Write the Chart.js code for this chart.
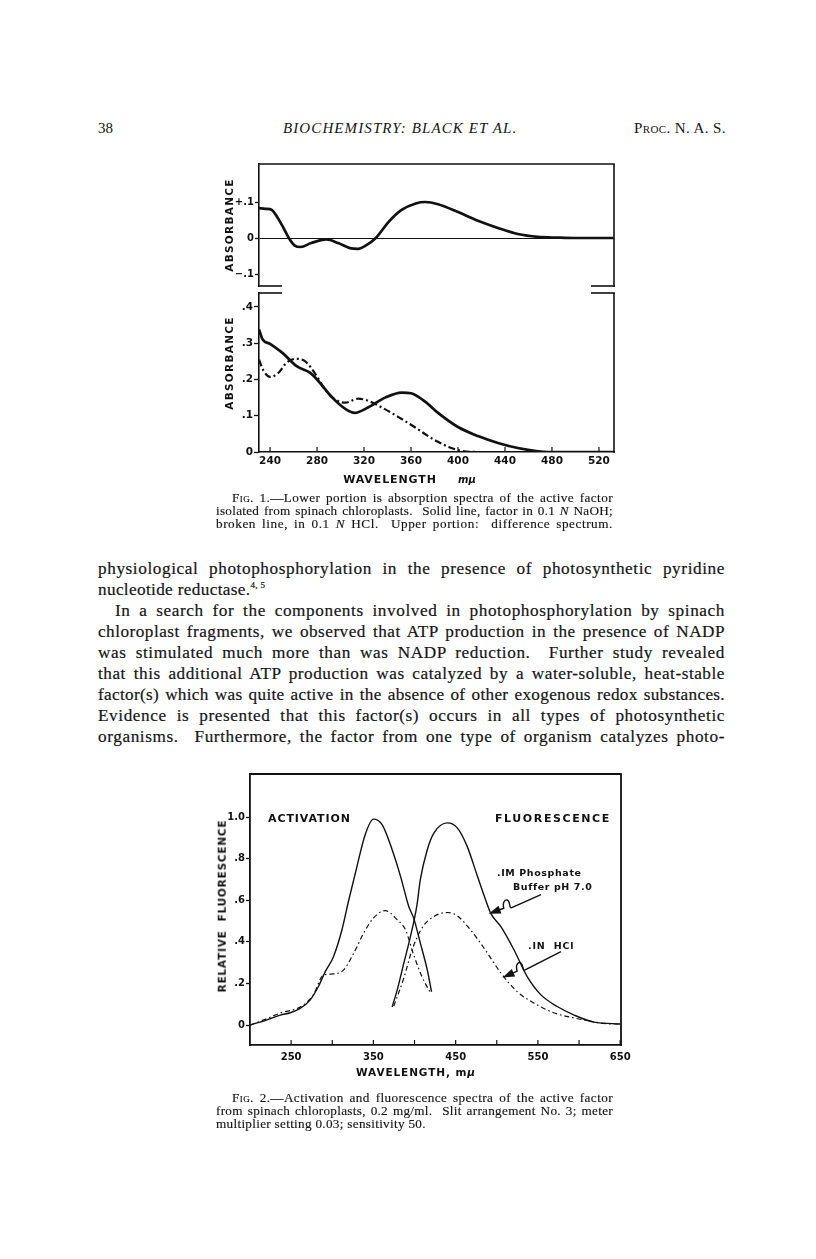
<!DOCTYPE html>
<html><head><meta charset="utf-8">
<script src="https://cdn.jsdelivr.net/npm/chart.js@4"></script>
<style>
html,body{margin:0;padding:0;background:#fff;}
body{width:816px;height:1259px;position:relative;overflow:hidden;font-family:"Liberation Serif",serif;color:#151515;}
.t{position:absolute;white-space:nowrap;}
.p{position:absolute;font-size:17.2px;line-height:21px;height:21px;white-space:nowrap;-webkit-text-stroke:0.2px #151515;}
.c{position:absolute;font-size:13.2px;line-height:13px;height:13px;white-space:nowrap;-webkit-text-stroke:0.15px #151515;}
.sc{font-variant:small-caps;}
.s{position:absolute;white-space:nowrap;font-family:"DejaVu Sans",sans-serif;font-weight:bold;color:#111;line-height:1;}
.rot{transform:translate(-50%,-50%) rotate(-90deg);}
.ctr{transform:translate(-50%,-50%);}
canvas{position:absolute;}
</style></head><body>

<div class="t" style="left:98px;top:118px;font-size:15px;line-height:20px;">38</div>
<div class="t" style="left:283px;top:118px;font-size:15px;line-height:20px;font-style:italic;letter-spacing:1.1px;">BIOCHEMISTRY: BLACK ET AL.</div>
<div class="t sc" style="left:634px;top:118px;font-size:15px;line-height:20px;letter-spacing:0.4px;">Proc. N. A. S.</div>

<canvas id="c1" width="430" height="150" style="left:200px;top:150px;"></canvas>
<canvas id="c2" width="430" height="195" style="left:200px;top:285px;"></canvas>
<canvas id="c3" width="440" height="310" style="left:200px;top:760px;"></canvas>

<div class="s rot" style="left:229px;top:225px;font-size:10.5px;letter-spacing:1.3px;">ABSORBANCE</div>
<div class="s rot" style="left:229px;top:363px;font-size:10.5px;letter-spacing:1.3px;">ABSORBANCE</div>
<div class="s ctr" style="left:390px;top:479px;font-size:11px;letter-spacing:0.9px;">WAVELENGTH</div>
<div class="s ctr" style="left:467px;top:480px;font-size:10px;font-style:italic;">mμ</div>

<div class="c fit" data-w="381" style="left:232px;top:491px;"><span class="sc">Fig.</span> 1.—Lower portion is absorption spectra of the active factor</div>
<div class="c fit" data-w="397" style="left:216px;top:504px;">isolated from spinach chloroplasts.&nbsp; Solid line, factor in 0.1 <i>N</i> NaOH;</div>
<div class="c fit" data-w="397" style="left:216px;top:517px;">broken line, in 0.1 <i>N</i> HCl.&nbsp; Upper portion:&nbsp; difference spectrum.</div>

<div class="p fit" data-w="627" style="left:98px;top:558px;">physiological photophosphorylation in the presence of photosynthetic pyridine</div>
<div class="p" style="left:98px;top:579px;letter-spacing:0.35px;">nucleotide reductase.<sup style="font-size:9px;line-height:0;">4, 5</sup></div>
<div class="p fit" data-w="610" style="left:115px;top:600px;">In a search for the components involved in photophosphorylation by spinach</div>
<div class="p fit" data-w="627" style="left:98px;top:621px;">chloroplast fragments, we observed that ATP production in the presence of NADP</div>
<div class="p fit" data-w="627" style="left:98px;top:642px;">was stimulated much more than was NADP reduction.&nbsp; Further study revealed</div>
<div class="p fit" data-w="627" style="left:98px;top:663px;">that this additional ATP production was catalyzed by a water-soluble, heat-stable</div>
<div class="p fit" data-w="627" style="left:98px;top:684px;">factor(s) which was quite active in the absence of other exogenous redox substances.</div>
<div class="p fit" data-w="627" style="left:98px;top:705px;">Evidence is presented that this factor(s) occurs in all types of photosynthetic</div>
<div class="p fit" data-w="627" style="left:98px;top:726px;">organisms.&nbsp; Furthermore, the factor from one type of organism catalyzes photo-</div>

<div class="s" style="left:268px;top:813px;font-size:11px;letter-spacing:0.9px;">ACTIVATION</div>
<div class="s" style="left:495px;top:813px;font-size:11px;letter-spacing:1.6px;">FLUORESCENCE</div>
<div class="s" style="left:497px;top:868px;font-size:9.5px;letter-spacing:0.6px;">.IM Phosphate</div>
<div class="s" style="left:513px;top:882px;font-size:9.5px;letter-spacing:0.6px;">Buffer pH 7.0</div>
<div class="s" style="left:528px;top:941px;font-size:9.5px;letter-spacing:0.8px;">.IN&nbsp; HCl</div>
<div class="s rot" style="left:222px;top:906px;font-size:10.5px;letter-spacing:0.8px;">RELATIVE&nbsp; FLUORESCENCE</div>
<div class="s ctr" style="left:416px;top:1072px;font-size:10.5px;letter-spacing:0.9px;">WAVELENGTH, m<i>μ</i></div>

<div class="c fit" data-w="381" style="left:232px;top:1091px;"><span class="sc">Fig.</span> 2.—Activation and fluorescence spectra of the active factor</div>
<div class="c fit" data-w="397" style="left:216px;top:1104px;">from spinach chloroplasts, 0.2 mg/ml.&nbsp; Slit arrangement No. 3; meter</div>
<div class="c" style="left:216px;top:1117px;letter-spacing:0.3px;">multiplier setting 0.03; sensitivity 50.</div>

<script>
// ---------- Fig. 1 data (wavelength in mμ, absorbance) ----------
const FIG1_X_TICKS = [240, 280, 320, 360, 400, 440, 480, 520];
const FIG1_X_LABELS = ['240', '280', '320', '360', '400', '440', '480', '520'];
const FIG1_DIFF_Y_TICKS = [-0.1, 0, 0.1];
const FIG1_DIFF_Y_LABELS = ['\u2212.1', '0', '+.1'];
const FIG1_ABS_Y_TICKS = [0, 0.1, 0.2, 0.3, 0.4];
const FIG1_ABS_Y_LABELS = ['0', '.1', '.2', '.3', '.4'];

const FIG1_DIFF_NM = [230.6, 236, 241.6, 245, 251, 256, 261, 266, 275, 288, 298, 308, 315, 322, 330, 341, 352, 364, 372, 383, 400, 417, 434, 451, 468, 485, 500, 532];
const FIG1_DIFF    = [0.083, 0.081, 0.078, 0.064, 0.031, 0.0, -0.021, -0.025, -0.014, -0.004, -0.014, -0.028, -0.030, -0.020, 0.0, 0.045, 0.078, 0.096, 0.100, 0.094, 0.072, 0.048, 0.028, 0.011, 0.003, 0.001, 0.0, 0.0];

const FIG1_NAOH_NM = [230.6, 233.6, 240, 251, 263, 274, 280, 293, 305, 312, 323, 338, 352, 360, 372, 383, 400, 417, 434, 451, 468, 477, 500, 532];
const FIG1_NAOH    = [0.338, 0.311, 0.298, 0.272, 0.236, 0.219, 0.200, 0.150, 0.117, 0.108, 0.122, 0.150, 0.164, 0.162, 0.139, 0.108, 0.069, 0.044, 0.025, 0.011, 0.002, 0.0, 0.0, 0.0];

const FIG1_HCL_NM = [230.6, 234, 240, 247, 254, 262, 270, 279, 287, 296, 304, 315, 323, 334, 349, 363, 377, 392, 403, 420, 480];
const FIG1_HCL    = [0.255, 0.227, 0.207, 0.218, 0.246, 0.257, 0.250, 0.213, 0.171, 0.144, 0.136, 0.147, 0.142, 0.125, 0.097, 0.069, 0.039, 0.014, 0.003, 0.0, 0.0];

// ---------- Fig. 2 data (wavelength in mμ, relative fluorescence) ----------
const FIG2_X_TICKS = [250, 300, 350, 400, 450, 500, 550, 600, 650];
const FIG2_X_LABELS = ['250', '', '350', '', '450', '', '550', '', '650'];
const FIG2_Y_TICKS = [0, 0.2, 0.4, 0.6, 0.8, 1.0];
const FIG2_Y_LABELS = ['0', '.2', '.4', '.6', '.8', '1.0'];

const ACT_BUFFER_NM = [200, 220, 237, 249, 261, 273, 283, 291.5, 301.6, 311.8, 320, 330, 340, 350, 360.6, 372.8, 383, 393, 399, 407, 415.5, 420.7];
const ACT_BUFFER    = [0.0, 0.024, 0.048, 0.059, 0.080, 0.120, 0.184, 0.257, 0.330, 0.458, 0.600, 0.762, 0.915, 0.990, 0.963, 0.843, 0.715, 0.570, 0.514, 0.395, 0.265, 0.160];

const FLU_BUFFER_NM = [372.8, 379, 387, 395, 403, 407, 415.5, 423.5, 440, 452, 464, 476.5, 486.6, 492.7, 505, 521, 537, 553.7, 574, 594, 618, 651];
const FLU_BUFFER    = [0.087, 0.169, 0.298, 0.425, 0.578, 0.698, 0.843, 0.923, 0.972, 0.948, 0.859, 0.715, 0.600, 0.537, 0.473, 0.361, 0.233, 0.145, 0.088, 0.048, 0.014, 0.005];

const ACT_HCL_NM = [200, 220, 237, 261, 277, 289, 301.6, 313.8, 326, 338, 350, 364.6, 379, 389, 399, 409, 419.5];
const ACT_HCL    = [0.0, 0.030, 0.058, 0.087, 0.145, 0.240, 0.246, 0.265, 0.345, 0.441, 0.514, 0.550, 0.506, 0.458, 0.337, 0.233, 0.153];

const FLU_HCL_NM = [374.8, 387, 397, 409, 423.5, 440, 452, 468, 484.5, 505, 525, 545, 570, 594, 610.6, 630, 651];
const FLU_HCL    = [0.091, 0.226, 0.361, 0.466, 0.522, 0.541, 0.525, 0.458, 0.370, 0.250, 0.160, 0.106, 0.058, 0.034, 0.021, 0.008, 0.004];

// arrows (annotation) in data units: tip and tail
const FIG2_ARROWS = [
  {tip: [490.2, 0.535], tail: [553.7, 0.627]},
  {tip: [507, 0.228], tail: [578, 0.353]}
];

// ---------- text line fitting (justify each printed line to its measure) ----------
document.querySelectorAll('.fit').forEach(el => {
  const target = parseFloat(el.dataset.w);
  let w = el.getBoundingClientRect().width;
  const txt = el.textContent;
  const n = txt.length;
  let ls;
  if (w > target) {
    ls = (target - w) / n - 0.02;
  } else {
    ls = Math.min(0.6, (target - w) * 0.6 / n);
  }
  el.style.letterSpacing = ls.toFixed(3) + 'px';
  w = el.getBoundingClientRect().width;
  const spaces = (txt.match(/[ \u00a0]/g) || []).length;
  if (spaces > 0) el.style.wordSpacing = ((target - w) / spaces).toFixed(3) + 'px';
});

const pts = (xs, ys) => xs.map((x, i) => ({x: x, y: ys[i]}));
const INK = '#111';

Chart.defaults.font.family = '"DejaVu Sans", sans-serif';
Chart.defaults.font.weight = 'bold';
Chart.defaults.color = INK;

const frame = {
  id: 'frame',
  afterDraw(chart, args, o) {
    const ctx = chart.ctx, a = chart.chartArea;
    ctx.save();
    ctx.strokeStyle = INK; ctx.fillStyle = INK; ctx.lineWidth = o.width || 1.6;
    const seg = (x1, y1, x2, y2) => { ctx.beginPath(); ctx.moveTo(x1, y1); ctx.lineTo(x2, y2); ctx.stroke(); };
    if (o.top) seg(a.left - 0.8, a.top, a.right + 0.8, a.top);
    if (o.right) seg(a.right, a.top, a.right, a.bottom + 0.8);
    if (o.bottomStubs) { seg(a.left, a.bottom, a.left + o.stub, a.bottom); seg(a.right - o.stub, a.bottom, a.right + 0.8, a.bottom); }
    if (o.topStubs) { seg(a.left - 0.8, a.top, a.left + o.stub, a.top); seg(a.right - o.stub, a.top, a.right + 0.8, a.top); }
    if (o.innerTicks) {
      const xs = chart.scales.x; ctx.lineWidth = 1.2;
      xs.ticks.forEach(t => { const px = xs.getPixelForValue(t.value); seg(px, a.bottom, px, a.bottom - o.innerTicks); });
    }
    if (o.arrows) {
      const xs = chart.scales.x, ys = chart.scales.y;
      ctx.lineWidth = 1.4;
      o.arrows.forEach(ar => {
        const tx = xs.getPixelForValue(ar.tip[0]), ty = ys.getPixelForValue(ar.tip[1]);
        const ex = xs.getPixelForValue(ar.tail[0]), ey = ys.getPixelForValue(ar.tail[1]);
        const dx = ex - tx, dy = ey - ty, L = Math.hypot(dx, dy);
        const ux = dx / L, uy = dy / L, nx = -uy, ny = ux;
        const p = (s, n) => [tx + ux * s + nx * n, ty + uy * s + ny * n];
        const hl = 12, hw = 4.2;
        ctx.beginPath(); ctx.moveTo(tx, ty);
        ctx.lineTo(...p(hl, hw)); ctx.lineTo(...p(hl, -hw)); ctx.closePath(); ctx.fill();
        ctx.beginPath();
        ctx.moveTo(...p(hl - 1, 0));
        ctx.lineTo(...p(16, 0));
        ctx.bezierCurveTo(...p(17, -8), ...p(23, -9), ...p(23, -4));
        ctx.bezierCurveTo(...p(23, 0), ...p(21, 3), ...p(25, 2));
        ctx.lineTo(ex, ey);
        ctx.stroke();
      });
    }
    ctx.restore();
  }
};

function fixScale(size, horizontal) {
  return s => {
    if (horizontal) s.height = size; else s.width = size;
    s.paddingLeft = 0; s.paddingRight = 0; s.paddingTop = 0; s.paddingBottom = 0;
  };
}
function setTicks(vals) { return s => { s.ticks = vals.map(v => ({value: v})); }; }
function labelFrom(vals, labels) { return v => { const i = vals.findIndex(t => Math.abs(t - v) < 1e-9); return i >= 0 ? labels[i] : ''; }; }

const baseOpts = {
  responsive: false, animation: false, devicePixelRatio: 1,
  events: [],
  plugins: {legend: {display: false}, tooltip: {enabled: false}},
  elements: {point: {radius: 0}}
};

// Fig 1 upper: difference spectrum
new Chart(document.getElementById('c1'), {
  type: 'scatter',
  data: {datasets: [
    {data: pts(FIG1_DIFF_NM, FIG1_DIFF), showLine: true, borderColor: INK, borderWidth: 2.7, cubicInterpolationMode: 'monotone', pointRadius: 0}
  ]},
  options: Object.assign({}, baseOpts, {
    layout: {padding: {left: 0, top: 14, right: 16, bottom: 14}},
    plugins: Object.assign({}, baseOpts.plugins, {frame: {top: true, right: true, bottomStubs: true, stub: 23}}),
    scales: {
      x: {type: 'linear', display: false, min: 230.6, max: 532.8},
      y: {type: 'linear', min: -0.1333, max: 0.2056,
          afterFit: fixScale(59, false), afterBuildTicks: setTicks(FIG1_DIFF_Y_TICKS),
          ticks: {callback: labelFrom(FIG1_DIFF_Y_TICKS, FIG1_DIFF_Y_LABELS), padding: 1, font: {size: 10, weight: 'bold'}, color: INK},
          grid: {drawOnChartArea: true, color: c => (c.tick && c.tick.value === 0) ? INK : 'rgba(0,0,0,0)', lineWidth: 1, tickLength: 4, tickColor: INK, tickWidth: 1.3},
          border: {display: true, color: INK, width: 1.6}}
    }
  }),
  plugins: [frame]
});

// Fig 1 lower: absorption spectra
new Chart(document.getElementById('c2'), {
  type: 'scatter',
  data: {datasets: [
    {data: pts(FIG1_NAOH_NM, FIG1_NAOH), showLine: true, borderColor: INK, borderWidth: 2.7, cubicInterpolationMode: 'monotone', pointRadius: 0},
    {data: pts(FIG1_HCL_NM, FIG1_HCL), showLine: true, borderColor: INK, borderWidth: 2.2, borderDash: [7, 3, 2, 3], cubicInterpolationMode: 'monotone', pointRadius: 0}
  ]},
  options: Object.assign({}, baseOpts, {
    layout: {padding: {left: 0, top: 8, right: 16, bottom: 0}},
    plugins: Object.assign({}, baseOpts.plugins, {frame: {right: true, topStubs: true, stub: 23, innerTicks: 5}}),
    scales: {
      x: {type: 'linear', min: 230.6, max: 532.8,
          afterFit: fixScale(28, true), afterBuildTicks: setTicks(FIG1_X_TICKS),
          ticks: {callback: labelFrom(FIG1_X_TICKS, FIG1_X_LABELS), padding: 3, maxRotation: 0, autoSkip: false, font: {size: 10.5, weight: 'bold'}, color: INK},
          grid: {display: false, drawTicks: false, tickLength: 0}, border: {display: true, color: INK, width: 1.6}},
      y: {type: 'linear', min: 0, max: 0.4386,
          afterFit: fixScale(59, false), afterBuildTicks: setTicks(FIG1_ABS_Y_TICKS),
          ticks: {callback: labelFrom(FIG1_ABS_Y_TICKS, FIG1_ABS_Y_LABELS), padding: 1, font: {size: 10.5, weight: 'bold'}, color: INK},
          grid: {drawOnChartArea: false, tickLength: 5, color: INK, tickColor: INK, tickWidth: 1.3},
          border: {display: true, color: INK, width: 1.6}}
    }
  }),
  plugins: [frame]
});

// Fig 2: activation and fluorescence spectra
new Chart(document.getElementById('c3'), {
  type: 'scatter',
  data: {datasets: [
    {data: pts(ACT_BUFFER_NM, ACT_BUFFER), showLine: true, borderColor: INK, borderWidth: 1.4, cubicInterpolationMode: 'monotone', pointRadius: 0},
    {data: pts(FLU_BUFFER_NM, FLU_BUFFER), showLine: true, borderColor: INK, borderWidth: 1.4, cubicInterpolationMode: 'monotone', pointRadius: 0},
    {data: pts(ACT_HCL_NM, ACT_HCL), showLine: true, borderColor: INK, borderWidth: 1.2, borderDash: [5, 3, 1.5, 3], cubicInterpolationMode: 'monotone', pointRadius: 0},
    {data: pts(FLU_HCL_NM, FLU_HCL), showLine: true, borderColor: INK, borderWidth: 1.2, borderDash: [5, 3, 1.5, 3], cubicInterpolationMode: 'monotone', pointRadius: 0}
  ]},
  options: Object.assign({}, baseOpts, {
    layout: {padding: {left: 0, top: 14, right: 19, bottom: 0}},
    plugins: Object.assign({}, baseOpts.plugins, {frame: {top: true, right: true, innerTicks: 5, width: 1.8, arrows: FIG2_ARROWS}}),
    scales: {
      x: {type: 'linear', min: 200, max: 651,
          afterFit: fixScale(25, true), afterBuildTicks: setTicks(FIG2_X_TICKS),
          ticks: {callback: labelFrom(FIG2_X_TICKS, FIG2_X_LABELS), padding: 6, maxRotation: 0, autoSkip: false, font: {size: 10, weight: 'bold'}, color: INK},
          grid: {display: false, drawTicks: false, tickLength: 0}, border: {display: true, color: INK, width: 1.8}},
      y: {type: 'linear', min: -0.096, max: 1.207,
          afterFit: fixScale(50, false), afterBuildTicks: setTicks(FIG2_Y_TICKS),
          ticks: {callback: labelFrom(FIG2_Y_TICKS, FIG2_Y_LABELS), padding: 1, font: {size: 10, weight: 'bold'}, color: INK},
          grid: {drawOnChartArea: false, tickLength: 4, color: INK, tickColor: INK, tickWidth: 1.3},
          border: {display: true, color: INK, width: 1.8}}
    }
  }),
  plugins: [frame]
});
</script>
</body></html>
